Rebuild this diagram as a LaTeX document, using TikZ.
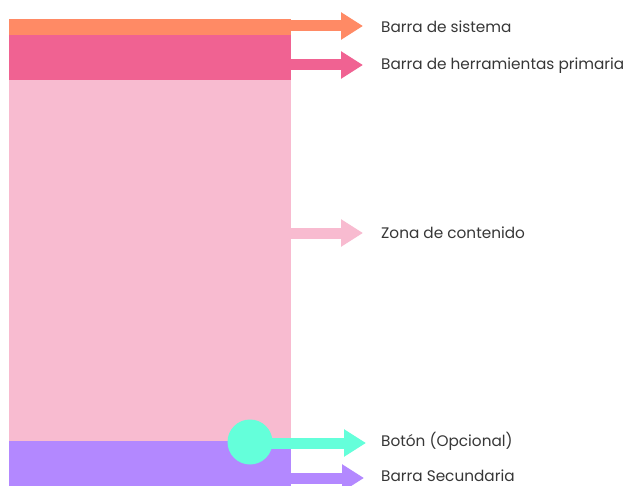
\documentclass[tikz,border=0pt]{standalone}
\usepackage{fontspec}
\setmainfont{Poppins}
\usetikzlibrary{arrows.meta}
\definecolor{sysc}{RGB}{255,138,101}
\definecolor{toolc}{RGB}{240,98,146}
\definecolor{contc}{RGB}{248,187,208}
\definecolor{secc}{RGB}{179,136,255}
\definecolor{btnc}{RGB}{100,255,218}
\definecolor{txtc}{RGB}{55,55,55}
\begin{document}
\begin{tikzpicture}[x=1pt,y=-1pt,
  barbox/.style={inner sep=0pt,outer sep=0pt,minimum width=282pt,anchor=north west},
  lbl/.style={anchor=west,inner sep=0pt,text=txtc,font=\fontsize{15.3}{17}\selectfont},
  arr/.style={line width=11pt,-{Triangle[width=26pt,length=22pt]}}]
\useasboundingbox (0,0) rectangle (628,486);
\fill[white] (0,0) rectangle (628,486);
\node[barbox,fill=sysc,minimum height=16pt] (sys) at (9,19) {};
\node[barbox,fill=toolc,minimum height=45pt] (tool) at (9,35) {};
\node[barbox,fill=contc,minimum height=361pt] (cont) at (9,80) {};
\node[barbox,fill=secc,minimum height=45pt] (sec) at (9,441) {};
\node[circle,fill=btnc,minimum size=45pt,inner sep=0pt] (btn) at (250,442) {};
\node[lbl] (lsys) at (381,27) {Barra de sistema};
\node[lbl] (ltool) at (381,66) {Barra de herramientas primaria};
\node[lbl] (lcont) at (381,233) {Zona de contenido};
\node[lbl] (lbtn) at (381,441) {Botón (Opcional)};
\node[lbl] (lsec) at (381,476) {Barra Secundaria};
\coordinate (tsys) at (363,26);
\coordinate (ttool) at (363,65);
\coordinate (tcont) at (363,233);
\coordinate (tbtn) at (366,443);
\coordinate (tsec) at (364,478);
\draw[arr,sysc] (sys.east |- tsys) -- (tsys);
\draw[arr,toolc] (tool.east |- ttool) -- (ttool);
\draw[arr,contc] (cont.east |- tcont) -- (tcont);
\draw[arr,btnc] (btn.center |- tbtn) -- (tbtn);
\draw[arr,secc] (sec.east |- tsec) -- (tsec);
\end{tikzpicture}
\end{document}
